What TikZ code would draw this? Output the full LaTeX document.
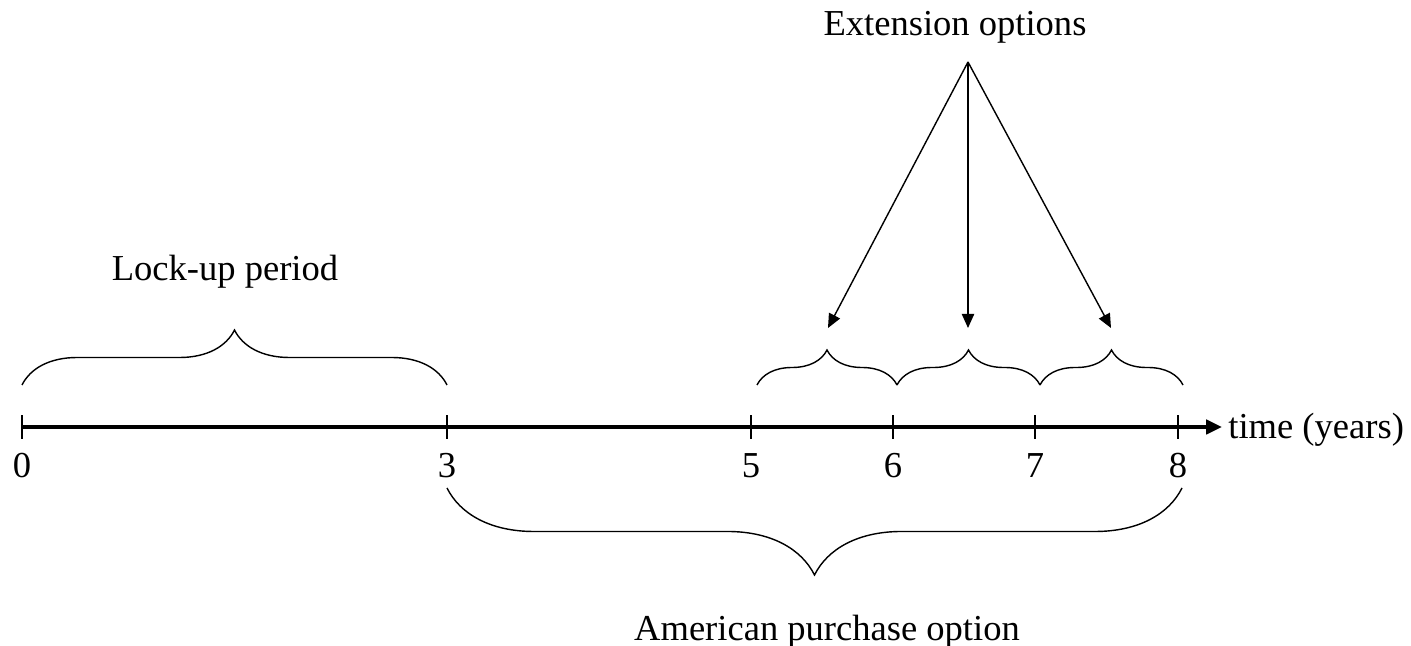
\documentclass[tikz,border=0pt]{standalone}
\usepackage{fontspec}
\setmainfont{Liberation Serif}
\usetikzlibrary{positioning,arrows.meta,decorations.pathreplacing}

\begin{document}
\begin{tikzpicture}[
  x=0.02cm, y=0.02cm,
  every node/.style={font=\fontsize{20.8}{25}\selectfont, inner sep=0pt},
  axis/.style={line width=2.2pt, -{Triangle[length=9pt, width=8pt]}},
  tick/.style={line width=0.8pt},
  brc/.style={line width=0.8pt, decorate, decoration={brace, amplitude=#1}},
  arr/.style={line width=0.8pt, -{Triangle[length=8pt, width=7pt]}}]
  \useasboundingbox (0,0) rectangle (1411,646);
  % time axis with ticks
  \coordinate (tend) at (1222,219);
  \foreach \x/\t in {22/0, 447/3, 751/5, 893/6, 1035/7, 1178/8} {
    \coordinate (t\t) at (\x,219);
    \draw[tick] ([yshift=-0.24cm]t\t) -- ([yshift=0.24cm]t\t);
    \node (n\t) at ([yshift=-0.78cm]t\t) {\t};
  }
  \draw[axis] (t0) -- (tend);
  \node[anchor=west] (time) at ([xshift=0.12cm, yshift=-0.06cm]tend) {time (years)};
  % lock-up period
  \coordinate (l0) at (22,261); \coordinate (l3) at (447,261);
  \draw[brc=1.1cm] (l0) -- (l3);
  \node (lock) at (225,374) {Lock-up period};
  % extension options
  \coordinate (e5) at (757,261); \coordinate (e6) at (897,261);
  \coordinate (e7) at (1040,261); \coordinate (e8) at (1183,261);
  \draw[brc=0.7cm] (e5) -- (e6);
  \draw[brc=0.7cm] (e6) -- (e7);
  \draw[brc=0.7cm] (e7) -- (e8);
  \node (ext) at (955,619) {Extension options};
  \coordinate (apex) at (968,584);
  \coordinate (x1) at (828,318); \coordinate (x2) at (968,318); \coordinate (x3) at (1111,318);
  \draw[arr] (apex) -- (x1); \draw[arr] (apex) -- (x2); \draw[arr] (apex) -- (x3);
  % american purchase option
  \coordinate (a3) at (447,158); \coordinate (a8) at (1182,158);
  \draw[brc=1.74cm, decoration={mirror}] (a3) -- (a8);
  \node (amer) at (827,14) {American purchase option};
\end{tikzpicture}
\end{document}
